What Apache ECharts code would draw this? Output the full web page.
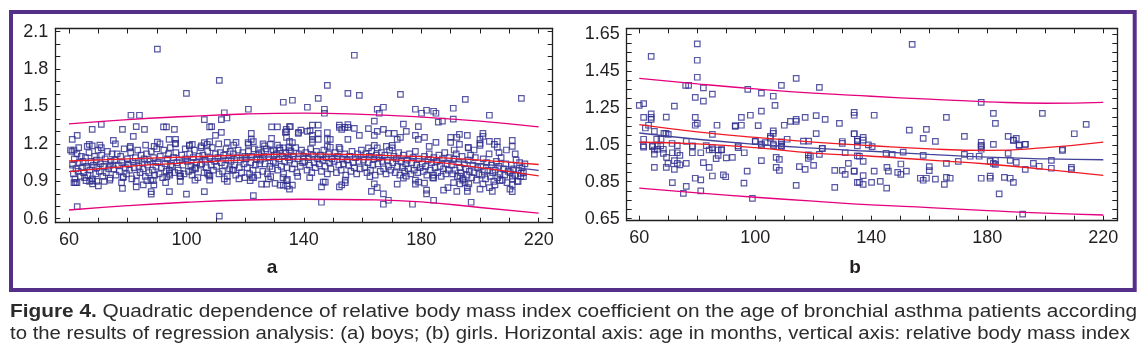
<!DOCTYPE html>
<html><head><meta charset="utf-8">
<script src="https://cdn.jsdelivr.net/npm/echarts@6/dist/echarts.min.js"></script>
<style>html,body{margin:0;padding:0;background:#fff}#c{width:1146px;height:364px}</style>
</head><body><div id="c"></div>
<script>
// ---------- tick labels ----------
const ageTicks = [60,70,80,90,100,110,120,130,140,150,160,170,180,190,200,210,220];
const ageLabels = [60,100,140,180,220];
const boysTicks = [0.6,0.7,0.8,0.9,1.0,1.1,1.2,1.3,1.4,1.5,1.6,1.7,1.8,1.9,2.0,2.1];
const boysLabels = [0.6,0.9,1.2,1.5,1.8,2.1];
const girlsTicks = [0.65,0.7,0.75,0.8,0.85,0.9,0.95,1.0,1.05,1.1,1.15,1.2,1.25,1.3,1.35,1.4,1.45,1.5,1.55,1.6,1.65];
const girlsLabels = [0.65,0.85,1.05,1.25,1.45,1.65];

// ---------- boys (a): [age in months, relative BMI] ----------
const boysUpper = [[90.1,1.961],[111.2,1.71],[100,1.606],[121.1,1.478],[133,1.534],[136.1,1.55],[81.1,1.43],[84,1.43],[112.9,1.45],[113.8,1.408],[111.9,1.394],[106.1,1.394],[71,1.357],[67.9,1.317],[62.8,1.269],[61.1,1.237],[78.2,1.317],[82.9,1.338],[85.7,1.317],[81.9,1.261],[92.2,1.336],[93.2,1.336],[95.9,1.317],[94.1,1.237],[96.3,1.237],[96.3,1.205],[75.1,1.229],[107.9,1.336],[108.6,1.338],[111.9,1.293],[109.9,1.269],[107.9,1.218],[113.9,1.213],[116.9,1.213],[122.1,1.285],[122.1,1.237],[122.8,1.218],[121.1,1.197],[129,1.336],[131,1.336],[134,1.317],[135.4,1.338],[133.7,1.293],[134.1,1.253],[135.1,1.221],[129,1.245],[138.2,1.293],[90.1,1.215],[89,1.181],[66.9,1.197],[67.9,1.184],[71,1.17],[60.5,1.151],[61.7,1.151],[80.8,1.168],[101,1.184],[102,1.197],[105.1,1.184],[107.1,1.197],[124.5,1.151],[126.6,1.184],[128.6,1.197],[129.6,1.151],[131.7,1.168],
[157.2,1.911],[148,1.67],[155,1.606],[158.9,1.59],[172.9,1.598],[195,1.558],[214.1,1.566],[144.9,1.566],[141.2,1.494],[147,1.478],[147,1.446],[165,1.478],[167.1,1.494],[165.7,1.446],[178,1.478],[180.1,1.446],[181.8,1.47],[184.2,1.462],[185,1.446],[190.9,1.486],[190.9,1.398],[203.2,1.43],[185.8,1.374],[187.2,1.382],[164,1.382],[173.9,1.358],[152.1,1.35],[152.1,1.333],[155,1.355],[155,1.333],[157.2,1.325],[154,1.333],[152.9,1.317],[142.9,1.35],[144.9,1.35],[135.1,1.338],[134.1,1.298],[139,1.31],[141.2,1.3],[142.1,1.306],[138.1,1.285],[142.9,1.269],[142.9,1.237],[142.9,1.213],[144.9,1.285],[144.9,1.237],[148,1.237],[148,1.29],[149,1.237],[148,1.181],[149,1.173],[152,1.173],[155,1.237],[158.9,1.269],[162,1.322],[164,1.269],[165,1.301],[167.1,1.317],[168.8,1.285],[170.8,1.285],[171.8,1.237],[172.9,1.253],[174.9,1.301],[178,1.269],[179,1.237],[181.1,1.253],[179,1.338],[182.7,1.181],[185,1.213],[190,1.253],[190,1.213],[192.1,1.253],[193,1.277],[193,1.197],[196,1.173],[195.7,1.269],[200,1.237],[200,1.205],[200,1.189],[201,1.285],[201,1.261],[203.2,1.221],[204.9,1.197],[205.9,1.221],[205.9,1.173],[211,1.229],[211,1.181],[133.1,1.168],[135.1,1.151],[164,1.189],[165,1.168],[162,1.168],[168.1,1.181],[170.1,1.189],[170.1,1.168],[191.2,1.151],[196,1.168],[198,1.151],[209,1.151]];
const boysLower = [[62.8,0.697],[111.2,0.62],[100,0.798],[106.1,0.817],[122.8,0.785],[94.2,0.817],[88,0.817],[88,0.798],[82.9,0.855],[78.2,0.844],[70,0.863],[61.7,0.89],[62.7,0.89],[65.8,0.905],[67,0.9],[68,0.905],[69.5,0.9],[74,0.925],[78.5,0.937],[85.3,0.872],[88.9,0.872],[86.5,0.905],[88.7,0.905],[93.3,0.937],[94.2,0.963],[94.2,0.99],[97.8,0.963],[97.8,0.942],[102,0.99],[102.9,1.01],[107.1,0.963],[108,0.942],[113.9,0.9],[116,0.99],[120,0.93],[121.7,0.905],[122.4,0.93],[125.6,0.877],[127.3,0.877],[130.2,0.883],[131.9,0.87],[134.4,0.915],[134.4,0.862],[128.7,0.937],
[146,0.732],[168.8,0.748],[167.1,0.716],[177,0.716],[184.2,0.748],[197,0.732],[133,0.87],[136.1,0.87],[135.1,0.838],[134.1,0.905],[146.6,0.893],[147.3,0.893],[146,0.855],[152.1,0.855],[152.9,0.872],[154.1,0.91],[154.1,0.89],[163,0.82],[165,0.85],[167.1,0.8],[164,0.88],[162.5,0.937],[171.8,0.877],[173.9,0.925],[174.9,0.942],[178,0.91],[178,0.877],[179.1,0.893],[181.1,0.886],[181.8,0.83],[181.8,0.8],[184.2,0.95],[184.2,0.925],[187.6,0.83],[189.1,0.85],[192.1,0.82],[193.2,0.942],[194.1,0.91],[194.9,0.89],[195.7,0.85],[195.7,0.82],[200,0.838],[203.2,0.85],[204.2,0.82],[205.1,0.872],[206.8,0.905],[210.2,0.838],[211,0.817],[211,0.872],[211,0.942],[213,0.9],[214,0.963],[214.8,0.937]];
const boysBand = [[61.2,1.03],[61.5,0.96],[61.8,1.08],[62,0.92],[62.4,1],[62.7,1.12],[63.1,0.98],[63.5,1.05],[63.9,0.94],[64.2,1.1],[64.6,1.01],[65,0.97],[61,1.14],[62.2,0.89],[63.3,1.17],[64.8,1.06],[65.3,0.93],
[65.6,1.09],[66,1.02],[66.4,0.95],[66.8,1.13],[67.1,0.99],[67.5,1.06],[67.9,0.92],[68.3,1.03],[68.7,1.1],[69.1,0.96],[69.5,1.01],[69.9,1.15],[66.2,1.18],[68,0.88],[69.3,1.07],
[70.3,0.98],[70.7,1.04],[71.1,1.11],[71.5,0.94],[71.9,1.02],[72.3,1.08],[72.7,0.97],[73.1,1.14],[73.5,1],[73.9,0.91],[74.3,1.06],[74.7,1.12],[70.5,1.19],[72,0.9],[74,1.03],
[75.2,1],[75.6,1.07],[76,0.95],[76.4,1.12],[76.8,1.03],[77.2,0.98],[77.6,1.1],[78,1.05],[78.4,0.93],[78.8,1.16],[79.2,1.01],[79.6,0.96],[75.8,1.2],[77.9,0.89],[79.9,1.08],
[80.2,1.04],[80.6,0.99],[81,1.13],[81.4,0.92],[81.8,1.06],[82.2,1.01],[82.6,1.09],[83,0.95],[83.4,1.15],[83.8,1.02],[84.2,0.97],[84.6,1.11],[80.9,1.18],[82.9,0.9],[84.9,1.05],
[85.2,1],[85.6,1.08],[86,0.94],[86.4,1.12],[86.8,1.03],[87.2,0.97],[87.6,1.06],[88,1.14],[88.4,0.99],[88.8,1.09],[89.2,0.95],[89.6,1.02],[86.1,1.19],[87.9,0.91],[89.9,1.16],
[90.3,1.05],[90.7,0.96],[91.1,1.1],[91.5,1.01],[91.9,0.93],[92.3,1.15],[92.7,1.04],[93.1,0.98],[93.5,1.08],[93.9,1.12],[94.3,0.95],[94.7,1.03],[91,1.2],[92.9,0.89],[94.5,1.17],
[95.2,1.02],[95.6,1.09],[96,0.97],[96.4,1.13],[96.8,1.05],[97.2,0.99],[97.6,1.07],[98,0.94],[98.4,1.11],[98.8,1.03],[99.2,0.96],[99.6,1.16],[96.2,1.2],[97.9,0.9],[99.8,1.08],
[100.3,1.06],[100.7,0.98],[101.1,1.12],[101.5,1.02],[101.9,0.95],[102.3,1.09],[102.7,1.15],[103.1,1],[103.5,1.05],[103.9,0.93],[104.3,1.1],[104.7,1.03],[101,1.19],[102.9,0.91],[104.9,1.17],
[105.2,1.04],[105.6,1.11],[106,0.97],[106.4,1.07],[106.8,1.01],[107.2,1.14],[107.6,0.95],[108,1.09],[108.4,1.03],[108.8,1.17],[109.2,0.99],[109.6,1.06],[106.1,1.21],[107.9,0.91],[109.9,1.12],
[110.3,1.02],[110.7,1.09],[111.1,0.96],[111.5,1.13],[111.9,1.05],[112.3,0.98],[112.7,1.11],[113.1,1.03],[113.5,1.16],[113.9,0.94],[114.3,1.07],[114.7,1],[111,1.2],[112.9,0.92],[114.9,1.14],
[115.2,1.06],[115.6,0.99],[116,1.12],[116.4,1.03],[116.8,0.95],[117.2,1.09],[117.6,1.15],[118,1.01],[118.4,1.07],[118.8,0.97],[119.2,1.13],[119.6,1.04],[116.1,1.19],[117.9,0.92],[119.9,1.1],
[120.3,1.08],[120.7,1.01],[121.1,1.14],[121.5,0.96],[121.9,1.05],[122.3,1.1],[122.7,0.99],[123.1,1.16],[123.5,1.03],[123.9,1.08],[124.3,0.95],[124.7,1.12],[121,1.21],[122.9,0.93],[124.9,1.04],
[125.2,1.07],[125.6,1.13],[126,0.98],[126.4,1.1],[126.8,1.04],[127.2,1.16],[127.6,0.96],[128,1.09],[128.4,1.02],[128.8,1.14],[129.2,1],[129.6,1.06],[126.1,1.2],[127.9,0.92],[129.9,1.11],
[130.3,1.05],[130.7,1.12],[131.1,0.99],[131.5,1.08],[131.9,1.15],[132.3,1.02],[132.7,1.1],[133.1,0.96],[133.5,1.06],[133.9,1.13],[134.3,1.01],[134.7,1.09],[131,1.19],[132.9,0.93],[134.9,1.17],
[135.2,1.07],[135.6,1.14],[136,1],[136.4,1.1],[136.8,1.04],[137.2,1.17],[137.6,0.97],[138,1.08],[138.4,1.12],[138.8,1.02],[139.2,1.15],[139.6,1.05],[136.1,1.21],[137.9,0.94],[139.9,1.1],
[140.3,1.06],[140.7,1.13],[141.1,0.99],[141.5,1.09],[141.9,1.03],[142.3,1.16],[142.7,0.97],[143.1,1.11],[143.5,1.05],[143.9,1.01],[144.3,1.14],[144.7,1.08],[142,0.93],
[145.2,1.04],[145.6,1.11],[146,0.98],[146.4,1.07],[146.8,1.15],[147.2,1.02],[147.6,1.09],[148,0.96],[148.4,1.12],[148.8,1.05],[149.2,1],[149.6,1.08],
[150.3,1.06],[150.7,1.13],[151.1,0.97],[151.5,1.1],[151.9,1.03],[152.3,1.16],[152.7,0.99],[153.1,1.08],[153.5,1.04],[153.9,1.12],[154.3,0.95],[154.7,1.07],
[155.2,1.03],[155.6,1.1],[156,0.98],[156.4,1.14],[156.8,1.05],[157.2,1.01],[157.6,1.09],[158,0.96],[158.4,1.12],[158.8,1.06],[159.2,1],[159.6,1.15],
[160.3,1.07],[160.7,1.01],[161.1,1.12],[161.5,0.97],[161.9,1.05],[162.3,1.1],[162.7,0.99],[163.1,1.14],[163.5,1.03],[163.9,1.08],[164.3,0.95],[164.7,1.11],
[165.2,1.04],[165.6,1.09],[166,0.98],[166.4,1.13],[166.8,1.06],[167.2,1],[167.6,1.11],[168,0.96],[168.4,1.07],[168.8,1.02],[169.2,1.15],[169.6,0.99],
[170.3,1.05],[170.7,1.1],[171.1,0.97],[171.5,1.08],[171.9,1.02],[172.3,1.13],[172.7,0.95],[173.1,1.06],[173.5,1.01],[173.9,1.11],[174.3,0.98],[174.7,1.04],
[175.2,1.07],[175.6,1],[176,1.12],[176.4,0.96],[176.8,1.05],[177.2,1.09],[177.6,0.99],[178,1.14],[178.4,1.03],[178.8,0.97],[179.2,1.08],[179.6,1.01],
[180.3,1.04],[180.7,0.98],[181.1,1.1],[181.5,1.02],[181.9,0.95],[182.3,1.07],[182.7,1.12],[183.1,0.99],[183.5,1.05],[183.9,0.93],[184.3,1.09],[184.7,1.01],
[185.2,1.06],[185.6,0.97],[186,1.11],[186.4,1.02],[186.8,0.94],[187.2,1.08],[187.6,1],[188,1.13],[188.4,0.96],[188.8,1.04],[189.2,0.99],[189.6,1.09],
[190.3,1.03],[190.7,0.96],[191.1,1.08],[191.5,0.99],[191.9,1.12],[192.3,0.94],[192.7,1.05],[193.1,1.01],[193.5,0.97],[193.9,1.1],[194.3,0.92],[194.7,1.04],[191,0.89],[193.2,0.88],
[195.2,1],[195.6,0.95],[196,1.07],[196.4,0.98],[196.8,1.11],[197.2,0.93],[197.6,1.03],[198,0.97],[198.4,1.09],[198.8,0.91],[199.2,1.01],[199.6,0.96],[196.2,0.88],
[200.3,1.02],[200.7,0.95],[201.1,1.08],[201.5,0.98],[201.9,0.92],[202.3,1.05],[202.7,0.99],[203.1,1.12],[203.5,0.94],[203.9,1.03],[204.3,0.97],[204.7,0.9],[201,0.88],
[205.2,0.99],[205.6,1.06],[206,0.93],[206.4,1.02],[206.8,0.96],[207.2,1.09],[207.6,0.91],[208,1],[208.4,0.95],[208.8,1.04],[209.2,0.89],[209.6,0.98],[206.5,1.13],
[210.3,0.97],[210.7,1.03],[211.1,0.92],[211.5,1],[211.9,0.95],[212.3,1.07],[212.7,0.9],[213.1,0.99],[213.5,1.05],[213.9,0.94],[214.3,1.01],[214.8,0.97],[215.3,1.04],[212,1.12]];
// regression curves (a)
const boysFit = [[60,1.02],[80,1.05],[100,1.072],[120,1.09],[140,1.1],[160,1.095],[180,1.08],[200,1.04],[220,0.988]];
const boysCiHi = [[60,1.063],[80,1.08],[100,1.095],[120,1.11],[140,1.12],[160,1.113],[180,1.098],[200,1.07],[220,1.035]];
const boysCiLo = [[60,0.977],[80,1.02],[100,1.048],[120,1.07],[140,1.078],[160,1.075],[180,1.062],[200,1.01],[220,0.943]];
const boysPiHi = [[60,1.36],[80,1.395],[100,1.42],[120,1.44],[140,1.447],[160,1.437],[180,1.415],[200,1.383],[220,1.336]];
const boysPiLo = [[60,0.67],[80,0.705],[100,0.732],[120,0.75],[140,0.756],[160,0.752],[180,0.735],[200,0.69],[220,0.644]];

// ---------- girls (b) ----------
const girlsLeft = [[80,1.597],[64.1,1.529],[80,1.508],[80,1.416],[76,1.372],[77,1.372],[82.1,1.358],[85.2,1.324],[79.3,1.307],[82.1,1.287],[60,1.264],[61.5,1.273],[72.1,1.259],[61.5,1.199],[64.1,1.218],[64.1,1.199],[64.1,1.188],[69.3,1.2],[63.2,1.156],[62.1,1.141],[79.3,1.199],[79.3,1.156],[80,1.166],[65.2,1.123],[69.2,1.112],[70,1.106],[68.5,1.112],[86.8,1.156],[85.2,1.106],[97.4,1.35],[102.1,1.33],[106.2,1.313],[102.1,1.232],[95.2,1.199],[98.3,1.21],[93.1,1.154],[95.2,1.156],[93.1,1.15],[101,1.154],[106.8,1.264],[109,1.372],[114.1,1.41],[122.1,1.361],[106.2,1.126],[106.2,1.112],[105.2,1.096],[105.2,1.086],[110,1.156],[112.1,1.177],[114.1,1.188],[114.1,1.177],[117.2,1.199],[121,1.208],[121,1.111],[124.1,1.188],[129,1.166],[134.1,1.21],[134.1,1.11],[135.2,1.08],[135.2,1.07],[111,1.08],[116.6,1.07],[118.4,1.07],[123.1,1.03],[130,1.068],[100,1.068],[109,1.066],[109,1.041],[106.3,1.046],[103.4,1.062],[102.1,1.046],[94.1,1.035],[88.4,1.024],[85.2,1.035],[85.2,1.024],[83.1,1.046],[78.3,1.041],[76.2,1.068],[73.1,1.046],[71.3,1.057],[61.5,1.08],[61.5,1.038],[64.5,1.04],[66,1.08],[67.5,1.08]];
const girlsMid = [[61.4,1.044],[64.6,1.044],[66.2,1.044],[67.4,1.044],[65.2,1.022],[65.2,1.0],[66.2,1.026],[68.3,1.026],[68.3,1.004],[69.4,0.982],[71.4,1.007],[73.1,1.007],[74,0.993],[72.1,0.964],[73.1,0.95],[74,0.941],[69.9,0.95],[72.1,0.917],[65.2,0.928],[69.3,0.928],[76.2,0.95],[78.3,1.007],[78.3,1.044],[81.2,1.007],[82.1,0.953],[84.1,0.928],[85.2,0.881],[84.1,1.022],[87.2,1.022],[87.2,0.993],[86.5,0.975],[88.3,1.022],[90,0.979],[92.1,0.982],[89,0.887],[89.8,0.877],[96.2,1.007],[94.1,1.044],[97.2,0.907],[96.1,0.842],[99,0.76],[75.2,0.787],[76.2,0.825],[71.4,0.845],[79.3,0.869],[81.2,0.86],[81.2,0.8],[102.1,0.964],[107.2,0.982],[108.3,0.971],[107.2,0.928],[108.3,0.912],[100,1.069],[102.1,1.054],[106.2,1.054],[109,1.054],[109,1.044],[114.1,0.83],[115.2,0.932],[117.2,0.917],[118.3,0.996],[118.3,0.977],[119,0.987],[120.1,0.939],[122.1,0.998],[123.1,1.031],[127.4,0.912],[127.4,0.82],[130,0.912],[131,0.89],[132.1,0.95],[131,1.007],[134.1,0.907],[135.2,0.847],[135.2,0.99],[135.2,1.044],[130,1.058]];
const girlsRight = [[154.1,1.594],[177.9,1.28],[134.1,1.226],[141,1.21],[165.9,1.199],[182.1,1.22],[182.8,1.166],[199,1.22],[153.1,1.129],[159,1.134],[157.9,1.085],[162.1,1.069],[172.1,1.096],[177.9,1.064],[177.9,1.04],[182.1,1.052],[187.2,1.096],[189,1.074],[190,1.085],[191,1.05],[193.1,1.052],[210,1.11],[214.1,1.161],[134.1,1.11],[137.2,1.09],[137.2,1.075],[139,1.05],[140.3,1.04],[205.9,1.026],
[192.2,0.675],[184.1,0.784],[135.2,1.069],[145.1,1.004],[147.2,0.998],[151,1.01],[157.9,0.993],[160,0.932],[160,0.91],[150.2,0.946],[149.1,0.901],[150.2,0.89],[152.1,0.907],[145.4,0.928],[145.9,0.907],[145.3,0.815],[141,0.907],[143.1,0.852],[140.1,0.847],[137.2,0.836],[137.2,0.883],[134.1,0.907],[137.2,0.96],[135.9,0.988],[135.9,0.847],[156.9,0.869],[157.9,0.858],[159,0.869],[162.1,0.864],[165.2,0.836],[165.9,0.874],[167.2,0.869],[165.9,0.95],[170,0.96],[172.1,0.998],[174.1,0.988],[177.2,0.988],[177.9,1.047],[177.9,1.026],[182.8,0.966],[181,0.96],[182.1,0.95],[182.8,0.944],[187.2,1.004],[187.9,0.966],[190,0.955],[193.1,0.917],[195.9,0.95],[197.9,0.934],[202.1,0.966],[202.1,0.923],[205.9,1.02],[209,0.928],[209,0.917],[181,0.88],[181,0.869],[177.9,0.869],[185.9,0.874],[187.9,0.869],[189,0.847],[191,1.047],[193.1,1.053],[189,1.075]];
const girlsFit = [[60,1.114],[80,1.08],[100,1.053],[120,1.032],[140,1.015],[160,0.998],[180,0.983],[200,0.974],[220,0.969]];
const girlsCiHi = [[60,1.159],[80,1.12],[100,1.09],[120,1.065],[140,1.045],[160,1.028],[180,1.02],[200,1.035],[220,1.065]];
const girlsCiLo = [[60,1.064],[80,1.055],[100,1.035],[120,1.005],[140,0.988],[160,0.967],[180,0.946],[200,0.917],[220,0.885]];
const girlsPiHi = [[60,1.41],[80,1.38],[100,1.353],[120,1.33],[140,1.313],[160,1.297],[180,1.283],[200,1.275],[220,1.28]];
const girlsPiLo = [[60,0.815],[80,0.79],[100,0.766],[120,0.745],[140,0.725],[160,0.71],[180,0.694],[200,0.68],[220,0.67]];

// ---------- drawing ----------
const FONT = '"Liberation Sans", Arial, sans-serif';
const INK = '#231f20';
const chart = echarts.init(document.getElementById('c'), null, {renderer:'canvas'});

function xAx(grid, min, max, pos) {
  return {type:'value', gridIndex:grid, min:min, max:max, position:pos,
    axisLine:{show:true, onZero:false, lineStyle:{color:INK, width:1.3}},
    axisTick:{show:true, inside:true, length:5, customValues:ageTicks, lineStyle:{color:INK, width:1}},
    axisLabel:{show:pos==='bottom', customValues:ageLabels, fontSize:18, fontFamily:FONT, color:INK, margin:8},
    splitLine:{show:false}};
}
function yAx(grid, min, max, pos, ticks, labels, dec) {
  return {type:'value', gridIndex:grid, min:min, max:max, position:pos,
    axisLine:{show:true, onZero:false, lineStyle:{color:INK, width:1.3}},
    axisTick:{show:true, inside:true, length:5, customValues:ticks, lineStyle:{color:INK, width:1}},
    axisLabel:{show:pos==='left', customValues:labels, fontSize:18, fontFamily:FONT, color:INK, margin:7,
      formatter:function(v){return v.toFixed(dec);}},
    splitLine:{show:false}};
}
const pts = (data, xi, yi) => ({type:'scatter', xAxisIndex:xi, yAxisIndex:yi, data:data, symbol:'rect', symbolSize:5.5,
  itemStyle:{color:'rgba(255,255,255,0)', borderColor:'#2e2d8f', borderWidth:1.2}, z:2, silent:true});
const ln = (data, xi, yi, color) => ({type:'line', xAxisIndex:xi, yAxisIndex:yi, data:data, smooth:true, showSymbol:false,
  lineStyle:{color:color, width:1.3}, z:3, silent:true});
const PI = '#e5007e', CI = '#f01a24', FIT = '#43439a';

chart.setOption({
  animation:false,
  backgroundColor:'#fff',
  grid:[
    {left:55.3, top:28.5, width:497.4, height:194.2},
    {left:626.7, top:28.3, width:490.6, height:192.4}
  ],
  xAxis:[xAx(0,55.33,224.77,'bottom'), xAx(0,55.33,224.77,'top'), xAx(1,55.66,224.83,'bottom'), xAx(1,55.66,224.83,'top')],
  yAxis:[yAx(0,0.568,2.1257,'left',boysTicks,boysLabels,1), yAx(0,0.568,2.1257,'right',boysTicks,boysLabels,1),
         yAx(1,0.639,1.681,'left',girlsTicks,girlsLabels,2), yAx(1,0.639,1.681,'right',girlsTicks,girlsLabels,2)],
  series:[
    pts(boysUpper,0,0), pts(boysLower,0,0), pts(boysBand,0,0),
    ln(boysPiHi,0,0,PI), ln(boysPiLo,0,0,PI), ln(boysCiHi,0,0,CI), ln(boysCiLo,0,0,CI), ln(boysFit,0,0,FIT),
    pts(girlsLeft,2,2), pts(girlsMid,2,2), pts(girlsRight,2,2),
    ln(girlsPiHi,2,2,PI), ln(girlsPiLo,2,2,PI), ln(girlsCiHi,2,2,CI), ln(girlsCiLo,2,2,CI), ln(girlsFit,2,2,FIT)
  ],
  graphic:[
    {type:'rect', shape:{x:11, y:12, width:1123.7, height:278}, style:{fill:null, stroke:'#55308a', lineWidth:4}, silent:true},
    {type:'text', x:272, y:277, style:{text:'a', font:'bold 19px '+FONT, fill:INK, align:'center', verticalAlign:'bottom'}},
    {type:'text', x:855, y:277, style:{text:'b', font:'bold 19px '+FONT, fill:INK, align:'center', verticalAlign:'bottom'}},
    {type:'text', x:10, y:303, scaleX:1.19, style:{text:'{b|Figure 4.} Quadratic dependence of relative body mass index coefficient on the age of bronchial asthma patients according',
      rich:{b:{fontWeight:'bold', fontSize:17.5, fontFamily:FONT, fill:'#2b2b2b'}}, font:'17.5px '+FONT, fill:'#2b2b2b', verticalAlign:'top'}},
    {type:'text', x:10, y:325, scaleX:1.163, style:{text:'to the results of regression analysis: (a) boys; (b) girls. Horizontal axis: age in months, vertical axis: relative body mass index',
      font:'17.5px '+FONT, fill:'#2b2b2b', verticalAlign:'top'}}
  ]
});
</script></body></html>
